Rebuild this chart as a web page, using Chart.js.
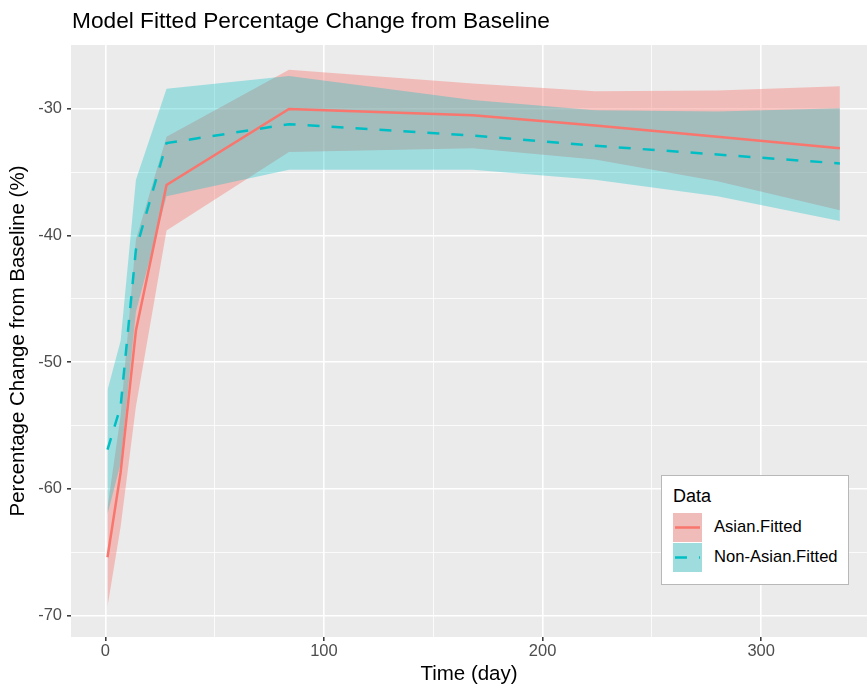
<!DOCTYPE html>
<html>
<head>
<meta charset="utf-8">
<title>Model Fitted Percentage Change from Baseline</title>
<script src="https://cdn.jsdelivr.net/npm/chart.js@4.4.1/dist/chart.umd.min.js"></script>
<style>
  html, body { margin: 0; padding: 0; background: #fff; }
  #wrap { position: relative; width: 867px; height: 687px; font-family: "Liberation Sans", Arial, sans-serif; }
  #title { position: absolute; left: 72px; top: 9px; font-size: 22.7px; line-height: 22px; color: #000; white-space: nowrap; }
  #legend { position: absolute; left: 661px; top: 475px; width: 188px; height: 110px; box-sizing: border-box;
            background: #fff; border: 1px solid #b8b8b8; }
  #legend .ttl { position: absolute; left: 11px; top: 10px; font-size: 18px; line-height: 20px; color: #000; }
  #legend canvas { position: absolute; left: 11px; }
  #legend .lab { position: absolute; left: 52px; font-size: 16.6px; line-height: 18px; color: #000; white-space: nowrap; }
</style>
</head>
<body>
<div id="wrap">
  <canvas id="chart" width="867" height="687"></canvas>
  <div id="title">Model Fitted Percentage Change from Baseline</div>
  <div id="legend"></div>
</div>
<script>
// Time points of the model fit (days)
const TIME_DAYS = [1, 7, 14, 28, 84, 168, 224, 280, 336];

// Asian group: fitted % change and its confidence band
const ASIAN_FIT   = [-65.4, -58.7, -47.5, -36.0, -30.0, -30.5, -31.3, -32.2, -33.1];
const ASIAN_UPPER = [-61.5, -54.2, -40.3, -32.2, -26.9, -28.0, -28.6, -28.55, -28.2];
const ASIAN_LOWER = [-69.3, -63.0, -53.5, -39.6, -33.4, -33.1, -34.0, -35.7, -38.0];

// Non-Asian group
const NONASIAN_FIT   = [-56.9, -53.5, -41.1, -32.7, -31.2, -32.1, -32.9, -33.6, -34.3];
const NONASIAN_UPPER = [-52.2, -48.3, -35.6, -28.4, -27.4, -29.3, -30.1, -30.2, -29.95];
const NONASIAN_LOWER = [-62.0, -58.0, -46.0, -36.9, -34.8, -34.8, -35.6, -36.9, -38.85];

const SERIES_NAMES = ['Asian.Fitted', 'Non-Asian.Fitted'];
const LINE_COLORS = ['#F8766D', '#00BFC4'];
const FILL_COLORS = ['rgba(248, 118, 109, 0.4)', 'rgba(0, 191, 196, 0.32)'];

// Axis ticks (minor ones get a grid line but no label)
const X_TICKS = [0, 50, 100, 150, 200, 250, 300];
const X_LABELED = [0, 100, 200, 300];
const Y_TICKS = [-70, -65, -60, -55, -50, -45, -40, -35, -30];
const Y_LABELED = [-70, -60, -50, -40, -30];

const FONT = '"Liberation Sans", Arial, sans-serif';

const toPoints = (ys) => TIME_DAYS.map((t, i) => ({ x: t, y: ys[i] }));

// grey panel like ggplot
const panelBackground = {
  id: 'panelBackground',
  beforeDraw(chart) {
    const { ctx, chartArea: a } = chart;
    ctx.save();
    ctx.fillStyle = '#EBEBEB';
    ctx.fillRect(a.left, a.top, a.right - a.left, a.bottom - a.top);
    ctx.restore();
  },
};

function ribbon(upper, lower, color, order) {
  return [
    { data: toPoints(upper), fill: '+1', backgroundColor: color, borderWidth: 0, pointRadius: 0, order },
    { data: toPoints(lower), fill: false, borderWidth: 0, pointRadius: 0, order },
  ];
}

const datasets = [
  ...ribbon(ASIAN_UPPER, ASIAN_LOWER, FILL_COLORS[0], 4),
  ...ribbon(NONASIAN_UPPER, NONASIAN_LOWER, FILL_COLORS[1], 3),
  { label: SERIES_NAMES[0], data: toPoints(ASIAN_FIT), borderColor: LINE_COLORS[0], borderWidth: 2.5,
    pointRadius: 0, fill: false, order: 2 },
  { label: SERIES_NAMES[1], data: toPoints(NONASIAN_FIT), borderColor: LINE_COLORS[1], borderWidth: 2.5,
    borderDash: [12, 12], pointRadius: 0, fill: false, order: 1 },
];

function gridOptions(isMajor) {
  return {
    color: '#FFFFFF',
    lineWidth: (c) => (c.tick && isMajor(c.tick.value) ? 1.6 : 0.8),
    tickColor: (c) => (c.tick && isMajor(c.tick.value) ? '#333333' : 'rgba(0,0,0,0)'),
    tickLength: 4,
    tickWidth: 1.5,
  };
}

new Chart(document.getElementById('chart'), {
  type: 'line',
  data: { datasets },
  plugins: [panelBackground],
  options: {
    responsive: false,
    devicePixelRatio: 1,
    animation: false,
    layout: { padding: { top: 45, right: 0, bottom: 0, left: 0 } },
    plugins: { legend: { display: false }, tooltip: { enabled: false } },
    scales: {
      x: {
        type: 'linear',
        min: -15.7,
        max: 348.4,
        border: { display: false },
        grid: gridOptions((v) => X_LABELED.includes(v)),
        afterBuildTicks: (axis) => { axis.ticks = X_TICKS.map((v) => ({ value: v })); },
        afterFit: (scale) => { scale.height = 50; },
        ticks: {
          padding: 1,
          color: '#4D4D4D',
          font: { family: FONT, size: 16.5 },
          callback: (v) => (X_LABELED.includes(v) ? String(v) : ''),
        },
        title: {
          display: true,
          text: 'Time (day)',
          color: '#000',
          padding: { top: 0, bottom: 0 },
          font: { family: FONT, size: 20.5 },
        },
      },
      y: {
        min: -71.7,
        max: -24.95,
        border: { display: false },
        grid: gridOptions((v) => Y_LABELED.includes(v)),
        afterBuildTicks: (axis) => { axis.ticks = Y_TICKS.map((v) => ({ value: v })); },
        afterFit: (scale) => { scale.width = 71; },
        ticks: {
          padding: 5,
          color: '#4D4D4D',
          font: { family: FONT, size: 16.5 },
          callback: (v) => (Y_LABELED.includes(v) ? String(v) : ''),
        },
        title: {
          display: true,
          text: 'Percentage Change from Baseline (%)',
          color: '#000',
          padding: { top: 6, bottom: 0 },
          font: { family: FONT, size: 20.5 },
        },
      },
    },
  },
});

// Legend drawn inside the panel, ggplot style
function buildLegend() {
  const box = document.getElementById('legend');
  const ttl = document.createElement('div');
  ttl.className = 'ttl';
  ttl.textContent = 'Data';
  box.appendChild(ttl);
  SERIES_NAMES.forEach((name, i) => {
    const top = 37 + i * 30;
    const key = document.createElement('canvas');
    key.width = 29;
    key.height = 29;
    key.style.top = top + 'px';
    const ctx = key.getContext('2d');
    ctx.fillStyle = '#EBEBEB';
    ctx.fillRect(0, 0, 29, 29);
    ctx.fillStyle = FILL_COLORS[i];
    ctx.fillRect(0, 0, 29, 29);
    ctx.strokeStyle = LINE_COLORS[i];
    ctx.lineWidth = 2.5;
    if (i === 1) ctx.setLineDash([12, 12]);
    ctx.beginPath();
    ctx.moveTo(2, 14.5);
    ctx.lineTo(27, 14.5);
    ctx.stroke();
    box.appendChild(key);
    const lab = document.createElement('div');
    lab.className = 'lab';
    lab.style.top = (top + 5) + 'px';
    lab.textContent = name;
    box.appendChild(lab);
  });
}
buildLegend();
</script>
</body>
</html>
